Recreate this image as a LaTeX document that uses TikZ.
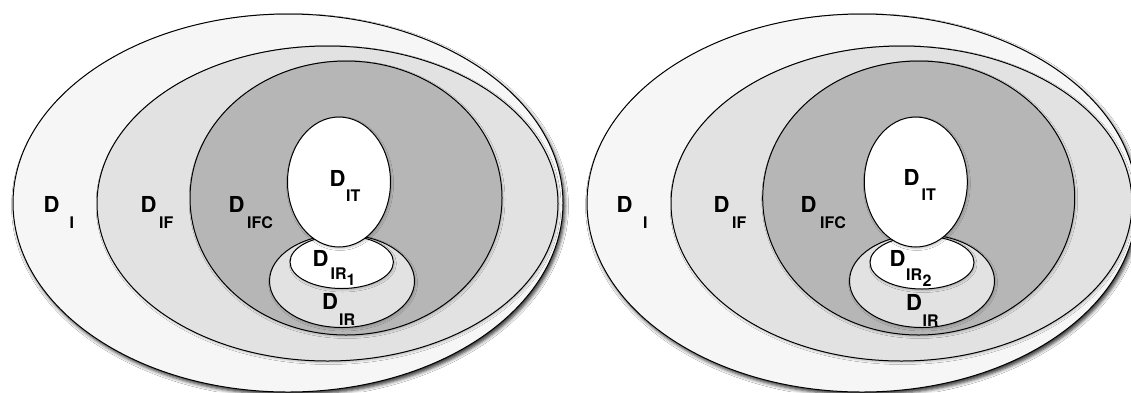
\documentclass[tikz,border=0pt]{standalone}
\usepackage{fontspec}
\setmainfont{TeX Gyre Heros}
\usetikzlibrary{shadows.blur}
\definecolor{cOuter}{HTML}{F6F6F6}
\definecolor{cSecond}{HTML}{E2E2E2}
\definecolor{cThird}{HTML}{B6B6B6}
\definecolor{cIR}{HTML}{E2E2E2}
\tikzset{
  ring/.style={draw=black, line width=1pt},
  bigshadow/.style={blur shadow={shadow xshift=2pt, shadow yshift=-3pt, shadow blur radius=3.5pt, shadow opacity=80}},
  smallshadow/.style={blur shadow={shadow xshift=1pt, shadow yshift=-1.5pt, shadow blur radius=2pt, shadow opacity=25}},
  bigD/.style={anchor=base west, inner sep=0pt, font=\fontsize{22}{24}\selectfont\bfseries},
  subD/.style={anchor=base west, inner sep=0pt, font=\fontsize{16}{18}\selectfont\bfseries},
}
\begin{document}
\begin{tikzpicture}[x=1pt,y=1pt]
\useasboundingbox (0,0) rectangle (1131,-392);
\clip (0,0) rectangle (1131,-392);
\fill[white] (0,0) rectangle (1131,-392);
% ---------------- left diagram ----------------
\path[ring, fill=cOuter, bigshadow] (288,-203) ellipse (275 and 189);
\path[ring, fill=cSecond, smallshadow] (327.5,-203.5) ellipse (230.5 and 157.5);
\path[ring, fill=cThird, smallshadow] (346,-198) ellipse (156 and 137);
\path[ring, fill=cIR, smallshadow] (342,-281) ellipse (72.5 and 46.5);
\path[ring, fill=white, smallshadow] (341.7,-262) ellipse (51.7 and 26.5);
\path[ring, fill=white, smallshadow] (339,-182) ellipse (51.5 and 65);
\node[bigD] (lDI) at (43.5,-212) {D};
\node[subD] (lDIs) at (69.5,-228) {I};
\node[bigD] (lDIF) at (140.5,-212) {D};
\node[subD] (lDIFs) at (159,-228) {IF};
\node[bigD] (lDIFC) at (228.5,-212) {D};
\node[subD] (lDIFCs) at (247,-228) {IFC};
\node[bigD] (lDIT) at (329.5,-186) {D};
\node[subD] (lDITs) at (346,-201.5) {IT};
\node[bigD] (lDIRa) at (312.5,-266) {D};
\node[subD] (lDIRas) at (330.5,-279.5) {IR};
\node[subD] (lDIRan) at (346.5,-285) {1};
\node[bigD] (lDIR) at (322,-309) {D};
\node[subD] (lDIRs) at (339,-325) {IR};
% ---------------- right diagram ----------------
\path[ring, fill=cOuter, bigshadow] (862,-203) ellipse (275 and 189);
\path[ring, fill=cSecond, smallshadow] (901.5,-203.5) ellipse (230.5 and 157.5);
\path[ring, fill=cThird, smallshadow] (918.7,-198) ellipse (156 and 137);
\path[ring, fill=cIR, smallshadow] (922,-281) ellipse (72.5 and 46.5);
\path[ring, fill=white, smallshadow] (922,-262.5) ellipse (52 and 26.5);
\path[ring, fill=white, smallshadow] (915.8,-182) ellipse (51.5 and 65);
\node[bigD] (rDI) at (616.5,-212) {D};
\node[subD] (rDIs) at (643,-228) {I};
\node[bigD] (rDIF) at (713.5,-212) {D};
\node[subD] (rDIFs) at (732,-228) {IF};
\node[bigD] (rDIFC) at (800.5,-212) {D};
\node[subD] (rDIFCs) at (820,-228) {IFC};
\node[bigD] (rDIT) at (903.5,-185) {D};
\node[subD] (rDITs) at (921.5,-200.5) {IT};
\node[bigD] (rDIRb) at (889.5,-266.5) {D};
\node[subD] (rDIRbs) at (906,-280) {IR};
\node[subD] (rDIRbn) at (922.5,-286.5) {2};
\node[bigD] (rDIR) at (906,-310) {D};
\node[subD] (rDIRs) at (922.5,-326.5) {IR};
\end{tikzpicture}
\end{document}
